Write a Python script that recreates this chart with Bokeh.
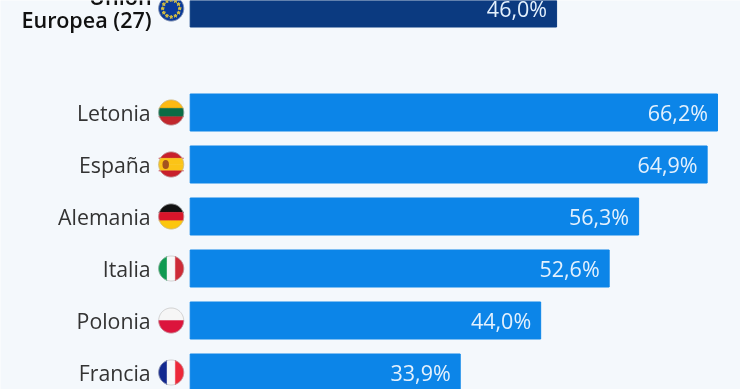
import numpy as np
from bokeh.plotting import figure
from bokeh.models import Range1d, ColumnDataSource
from bokeh.core.properties import value
from bokeh.embed import file_html
from bokeh.resources import INLINE

union_label = ["Unión", "Europea (27)"]
union_value = [46.0]
countries = ["Letonia", "España", "Alemania", "Italia", "Polonia", "Francia"]
country_values = [66.2, 64.9, 56.3, 52.6, 44.0, 33.9]
union_row = [0]
country_rows = [2, 3, 4, 5, 6, 7]

W, H = 740, 389
PX_X = 7.965      # px per percentage point
PX_Y = 52.0       # px per row
X0 = 189.7
Y0 = 8.0

p = figure(width=W, height=H, output_backend="svg", toolbar_location=None,
           x_range=Range1d(-X0 / PX_X, (W - X0) / PX_X),
           y_range=Range1d((H - Y0) / PX_Y, -Y0 / PX_Y),
           min_border=0, outline_line_color=None,
           background_fill_color="#f4f8fc", border_fill_color="#f4f8fc",
           styles={"position": "fixed", "left": "0px", "top": "0px"})
p.axis.visible = False
p.grid.visible = False

BAR_H = 37 / PX_Y
p.hbar(y=union_row, right=union_value, left=0, height=BAR_H, color="#0b3a80")
p.hbar(y=country_rows, right=country_values, left=0, height=BAR_H, color="#0c85e8")

# value labels
def fmt(v):
    return f"{v:.1f}".replace(".", ",") + "%"

vals = ColumnDataSource(dict(x=union_value + country_values,
                             y=union_row + country_rows,
                             t=[fmt(v) for v in union_value + country_values]))
p.text(x="x", y="y", text="t", source=vals, text_font=value("Open Sans"),
       text_font_size="21.5px", text_color="#e4f1fd", text_align="right",
       text_baseline="middle", x_offset=-9.5, y_offset=0)

# category labels
p.text(x=[0] * 6, y=country_rows, text=countries, text_font=value("Open Sans"),
       text_font_size="21.3px", text_color="#333333", text_align="right",
       text_baseline="middle", x_offset=-39.5, y_offset=0)
p.text(x=[0, 0], y=[0, 0], text=union_label, text_font=value("Open Sans SemiBold"),
       text_font_size="21.6px", text_color="#111111",
       text_align="right", text_baseline="middle", x_offset=-38.5,
       y_offset=[-12, 11])

# flags: circle of radius R at 19 px left of the bar origin
CX = -19.0 / PX_X
R = 12.5

def stripe(row, a, b, horizontal=True):
    """Part of the flag disc between fractions a and b of its diameter."""
    lo, hi = -R + 2 * R * a, -R + 2 * R * b
    t = np.linspace(0, 2 * np.pi, 120)
    u, v = R * np.cos(t), R * np.sin(t)
    if horizontal:
        v = np.clip(v, lo, hi)
    else:
        u = np.clip(u, lo, hi)
    return list(CX + u / PX_X), list(row + v / PX_Y)

def flag(row, colours, horizontal=True):
    n = len(colours)
    for i, c in enumerate(colours):
        xs, ys = stripe(row, i / n, (i + 1) / n, horizontal)
        p.patch(xs, ys, fill_color=c, line_color=c, line_width=0.5)

def outline(row):
    t = np.linspace(0, 2 * np.pi, 120)
    p.line(list(CX + R * np.cos(t) / PX_X), list(row + R * np.sin(t) / PX_Y),
           line_color="#b5b5b5", line_width=0.6)

# EU
flag(0, ["#0a3a9a"])
a = np.linspace(0, 2 * np.pi, 12, endpoint=False)
p.scatter(list(CX + 8.5 * np.cos(a) / PX_X), list(0 + 8.5 * np.sin(a) / PX_Y),
          marker="star", size=3.5, color="#d8c040")
outline(0)
# Lithuania
flag(2, ["#fdb913", "#0b6b45", "#c1272d"]); outline(2)
# Spain
flag(3, ["#c8202c", "#fbc417", "#fbc417", "#c8202c"])
p.ellipse([CX - 5.5 / PX_X], [3], width=6.5 / PX_X, height=9 / PX_Y,
          fill_color="#a3541f", line_color=None)
outline(3)
# Germany
flag(4, ["#111111", "#d8152a", "#fcc60e"]); outline(4)
# Italy
flag(5, ["#109a50", "#f8f8f8", "#ce2b37"], horizontal=False); outline(5)
# Poland
flag(6, ["#f6f6f6", "#dc143c"]); outline(6)
# France
flag(7, ["#12288f", "#f8f8f8", "#ed2939"], horizontal=False); outline(7)

open("out.html", "w").write(file_html(p, INLINE))
